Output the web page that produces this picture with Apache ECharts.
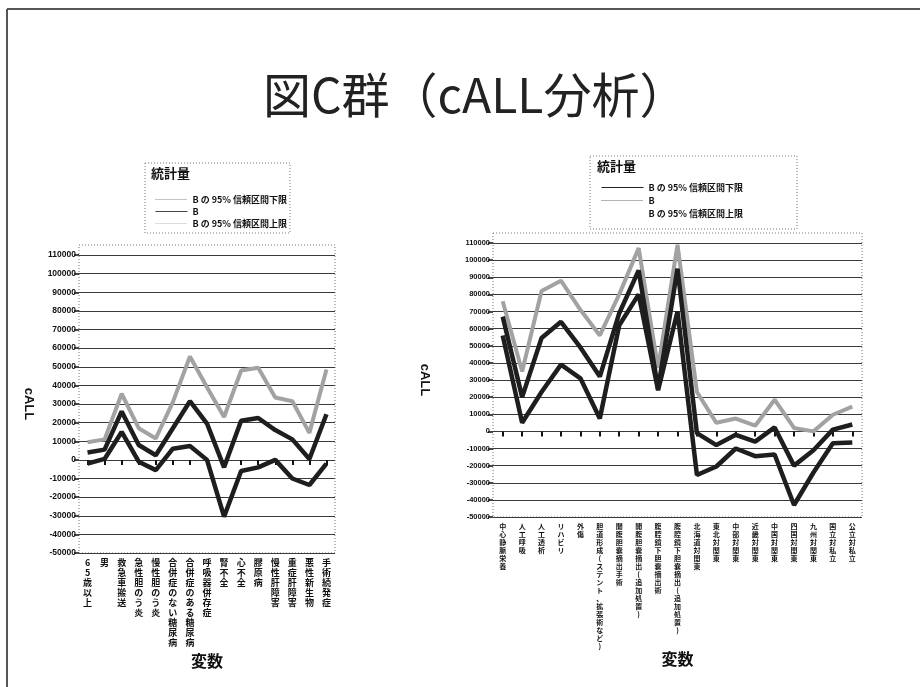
<!DOCTYPE html>
<html><head><meta charset="utf-8">
<script src="https://cdn.jsdelivr.net/npm/echarts@6/dist/echarts.min.js"></script>
<style>html,body{margin:0;padding:0;background:#fff}#c{width:920px;height:687px}</style>
</head><body><div id="c"></div>
<script>
const titleText = '図C群（cALL分析）';
const legendTitle = '統計量';
const nameLower = 'B の 95% 信頼区間下限';
const nameB = 'B';
const nameUpper = 'B の 95% 信頼区間上限';
const xName = '変数';
const yName = 'cALL';

const leftCats = ['65歳以上','男','救急車搬送','急性胆のう炎','慢性胆のう炎','合併症のない糖尿病','合併症のある糖尿病','呼吸器併存症','腎不全','心不全','膠原病','慢性肝障害','重症肝障害','悪性新生物','手術続発症'];
const leftUpper = [9500, 11000, 35500, 17000, 11500, 31000, 55500, 39000, 23000, 48000, 49500, 33500, 31500, 14500, 48500];
const leftB     = [4000, 5500, 26000, 8000, 2500, 17000, 31500, 19500, -4000, 21000, 22500, 16000, 11000, 500, 24500];
const leftLower = [-2000, 500, 15000, -1000, -5500, 6000, 7500, 0, -30500, -6000, -4000, 0, -10000, -13500, -2000];

const rightCats = ['中心静脈栄養','人工呼吸','人工透析','リハビリ','外傷','胆道形成(ステント、拡張術など)','開腹胆嚢摘出手術','開腹胆嚢摘出(追加処置)','腹腔鏡下胆嚢摘出術','腹腔鏡下胆嚢摘出(追加処置)','北海道対関東','東北対関東','中部対関東','近畿対関東','中国対関東','四国対関東','九州対関東','国立対私立','公立対私立'];
const rightUpper = [76000, 35000, 82000, 88000, 71000, 56000, 80000, 107000, 37000, 109000, 23000, 5000, 7500, 3300, 18500, 2000, 0, 9700, 14500];
const rightB     = [67000, 20000, 54500, 64000, 49000, 32000, 69000, 94000, 25000, 95000, -1000, -8000, -2000, -6000, 2300, -20000, -11000, 1000, 4000];
const rightLower = [56000, 5000, 23000, 39000, 31000, 7500, 62000, 80000, 24000, 70000, -25500, -20500, -10000, -14500, -13500, -43000, -24000, -7000, -6500];

const yMin = -50000, yMax = 110000, yStep = 10000;

const gL = {left: 79, top: 255, width: 256, height: 298};
const gR = {left: 493, top: 243, width: 369, height: 274};

const cjk = '"Noto Sans CJK JP", "Liberation Sans", sans-serif';
const sans = '"Liberation Sans", Arial, sans-serif';
const dark = '#1e1e1e', grey = '#a2a2a2';

function vert(s){ return Array.from(s).join('\n'); }

function xAx(idx, cats, fs, lh, gap){
  return {type:'category', gridIndex: idx, data: cats, boundaryGap: true,
    axisLine:{show:false},
    axisTick:{show:true, alignWithLabel:true, length:5, lineStyle:{color:'#111', width:2}},
    axisLabel:{interval:0, formatter: vert, fontFamily: cjk, fontWeight:'bold', fontSize: fs, lineHeight: lh, color:'#111', margin:5},
    name: xName, nameLocation:'middle', nameGap: gap,
    nameTextStyle:{fontFamily: cjk, fontWeight:'bold', fontSize:16, color:'#111'}};
}
function yAx(idx, fs, gap){
  return {type:'value', gridIndex: idx, min: yMin, max: yMax, interval: yStep,
    axisLine:{show:false},
    axisTick:{show:true, length:5, lineStyle:{color:'#111', width:1.5}},
    axisLabel:{fontFamily: sans, fontWeight:'bold', fontSize: fs, color:'#111', margin:3, formatter: v => String(v)},
    splitLine:{show:true, lineStyle:{color:'#3a3a3a', width:1.2}},
    name: yName, nameLocation:'middle', nameGap: gap, nameRotate:-90,
    nameTextStyle:{fontFamily: sans, fontWeight:'bold', fontSize:13, color:'#111'}};
}
function ser(name, data, idx, color, w, z){
  return {name, type:'line', data, xAxisIndex: idx, yAxisIndex: idx, symbol:'none', showSymbol:false,
    lineStyle:{color, width: w}, itemStyle:{color}, z, silent:true};
}
function box(g){
  return {type:'rect', shape:{x:g.left, y:g.top-10, width:g.width, height:g.height+10},
    style:{fill:'none', stroke:'#777', lineWidth:1, lineDash:[1,2]}, z:-1};
}
const hid = {opacity:0};

const chart = echarts.init(document.getElementById('c'), null, {renderer:'canvas'});
chart.setOption({
  backgroundColor:'#fff',
  animation:false,
  title:{text: titleText, left: 258, top: 66, textStyle:{fontFamily: cjk, fontWeight:'normal', fontSize:48, color:'#222'}},
  grid:[Object.assign({containLabel:false}, gL), Object.assign({containLabel:false}, gR)],
  xAxis:[xAx(0, leftCats, 9, 10, 100), xAx(1, rightCats, 7, 8, 133)],
  yAxis:[yAx(0, 8.5, 44), yAx(1, 7.5, 62)],
  legend:[
    {left:150, top:190, orient:'vertical', itemWidth:32, itemHeight:8, itemGap:3,
     textStyle:{fontFamily: cjk, fontWeight:'bold', fontSize:9, color:'#111'},
     data:[{name:nameLower, itemStyle:hid, lineStyle:{color:'#888', width:1, type:'dotted'}},
           {name:nameB, itemStyle:hid, lineStyle:{color:'#444', width:1, type:'solid'}},
           {name:nameUpper, itemStyle:hid, lineStyle:{color:'#bbb', width:1, type:'dotted'}}]},
    {left:596, top:178, orient:'vertical', itemWidth:42, itemHeight:8, itemGap:4,
     textStyle:{fontFamily: cjk, fontWeight:'bold', fontSize:9, color:'#111'},
     data:[{name:nameLower, itemStyle:hid, lineStyle:{color:'#222', width:1, type:'solid'}},
           {name:nameB, itemStyle:hid, lineStyle:{color:'#666', width:1, type:'dotted'}},
           {name:nameUpper, itemStyle:hid, lineStyle:{color:'#fff', width:1, type:'dotted'}}]}
  ],
  series:[
    ser(nameUpper, leftUpper, 0, grey, 4, 2),
    ser(nameB, leftB, 0, dark, 4.5, 3),
    ser(nameLower, leftLower, 0, dark, 4.5, 3),
    ser(nameUpper, rightUpper, 1, grey, 4, 2),
    ser(nameB, rightB, 1, dark, 4.5, 3),
    ser(nameLower, rightLower, 1, dark, 4.5, 3)
  ],
  graphic:[
    {type:'line', shape:{x1:7, y1:9, x2:920, y2:9}, style:{stroke:'#555', lineWidth:2}},
    {type:'line', shape:{x1:7, y1:9, x2:7, y2:687}, style:{stroke:'#555', lineWidth:2}},
    box(gL), box(gR),
    {type:'rect', shape:{x:145, y:163, width:145, height:70}, style:{fill:'none', stroke:'#777', lineWidth:1, lineDash:[1,2]}},
    {type:'rect', shape:{x:590, y:156, width:207, height:73}, style:{fill:'none', stroke:'#777', lineWidth:1, lineDash:[1,2]}},
    {type:'text', left:151, top:167, style:{text: legendTitle, font:'bold 13px ' + cjk, fill:'#111'}},
    {type:'text', left:597, top:160, style:{text: legendTitle, font:'bold 13px ' + cjk, fill:'#111'}}
  ]
});
</script></body></html>
